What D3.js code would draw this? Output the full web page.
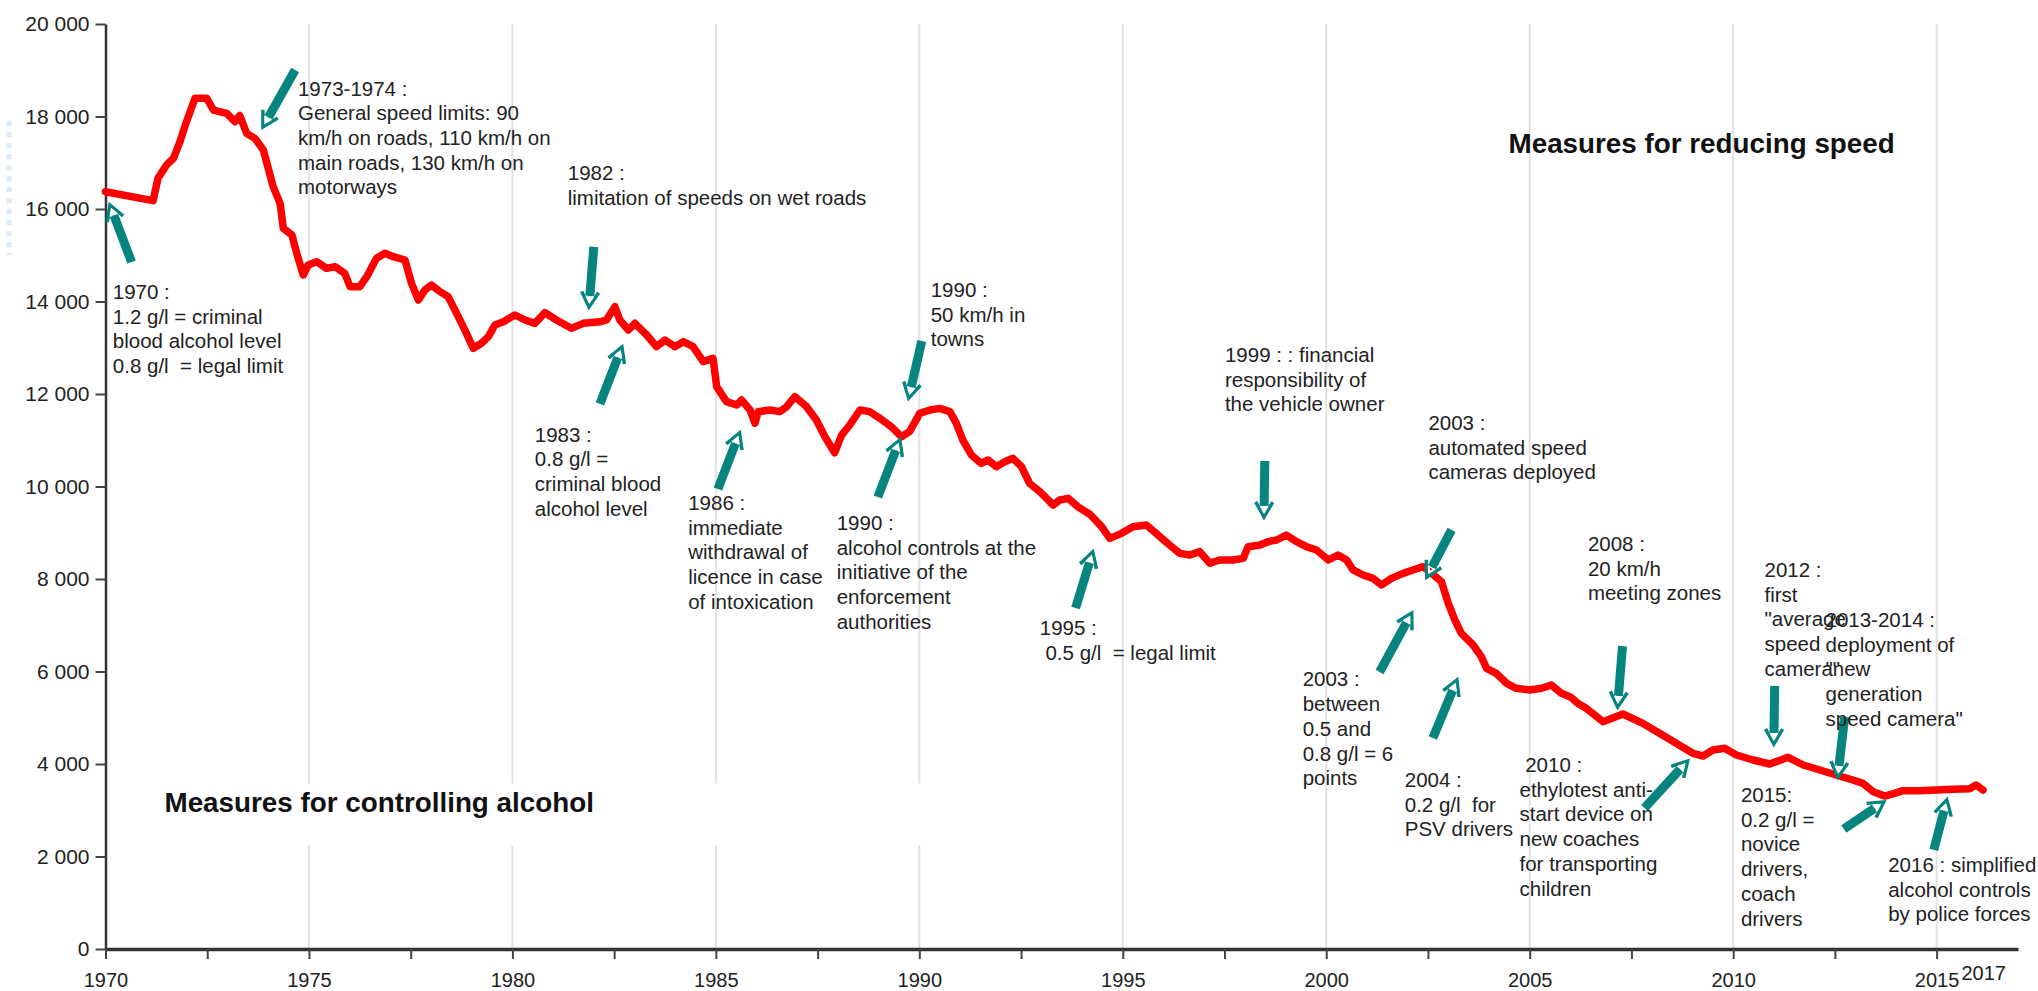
<!DOCTYPE html>
<html>
<head>
<meta charset="utf-8">
<script src="https://cdn.jsdelivr.net/npm/d3@7"></script>
<style>
  html, body { margin: 0; padding: 0; background: #fff; }
  svg { display: block; }
  text { font-family: "Liberation Sans", Arial, sans-serif; white-space: pre; }
</style>
</head>
<body>
<svg id="chart" width="2038" height="991"></svg>
<script>
// Road deaths in France, rolling 12-month total, with the main measures on speed and alcohol.

// --- data ---------------------------------------------------------------
const periods = [
  1970.00, 1971.17, 1971.29, 1971.50, 1971.67, 1971.83, 1971.99, 1972.20, 1972.49, 1972.65,
  1972.98, 1973.18, 1973.30, 1973.47, 1973.67, 1973.88, 1974.12, 1974.29, 1974.37, 1974.58,
  1974.70, 1974.86, 1974.98, 1975.19, 1975.43, 1975.64, 1975.88, 1976.01, 1976.25, 1976.42,
  1976.66, 1976.87, 1977.07, 1977.36, 1977.52, 1977.69, 1977.85, 1978.01, 1978.22, 1978.42,
  1978.67, 1978.87, 1979.04, 1979.24, 1979.41, 1979.57, 1979.78, 1980.06, 1980.31, 1980.55,
  1980.80, 1981.08, 1981.45, 1981.74, 1982.15, 1982.31, 1982.52, 1982.64, 1982.85, 1983.01,
  1983.30, 1983.54, 1983.75, 1983.99, 1984.20, 1984.44, 1984.69, 1984.93, 1985.02, 1985.26,
  1985.51, 1985.63, 1985.84, 1985.96, 1986.04, 1986.33, 1986.57, 1986.74, 1986.94, 1987.23,
  1987.47, 1987.68, 1987.92, 1988.09, 1988.29, 1988.54, 1988.78, 1989.03, 1989.31, 1989.56,
  1989.76, 1990.01, 1990.26, 1990.50, 1990.75, 1990.91, 1991.07, 1991.28, 1991.52, 1991.69,
  1991.89, 1992.10, 1992.30, 1992.51, 1992.71, 1992.96, 1993.29, 1993.45, 1993.66, 1993.90,
  1994.19, 1994.48, 1994.68, 1994.97, 1995.25, 1995.58, 1995.91, 1996.15, 1996.40, 1996.65,
  1996.89, 1997.14, 1997.38, 1997.71, 1997.96, 1998.08, 1998.37, 1998.57, 1998.78, 1999.02,
  1999.27, 1999.51, 1999.76, 2000.05, 2000.29, 2000.50, 2000.66, 2000.91, 2001.15, 2001.36,
  2001.60, 2001.89, 2002.13, 2002.38, 2002.59, 2002.83, 2003.00, 2003.16, 2003.32, 2003.61,
  2003.81, 2003.94, 2004.18, 2004.43, 2004.67, 2005.00, 2005.29, 2005.53, 2005.78, 2006.00,
  2006.20, 2006.39, 2006.80, 2007.29, 2007.78, 2008.19, 2008.60, 2009.01, 2009.26, 2009.50,
  2009.79, 2010.08, 2010.49, 2010.90, 2011.35, 2011.72, 2012.13, 2012.53, 2012.94, 2013.19,
  2013.44, 2013.72, 2013.97, 2014.17, 2014.58, 2014.99, 2015.40, 2015.81, 2015.97, 2016.14,
];
const deaths = [
  16374, 16180, 16663, 16951, 17096, 17456, 17888, 18393, 18393, 18140,
  18069, 17888, 18020, 17636, 17528, 17276, 16483, 16122, 15582, 15438,
  15042, 14573, 14789, 14861, 14717, 14753, 14609, 14321, 14321, 14537,
  14933, 15042, 14969, 14897, 14393, 14032, 14249, 14357, 14213, 14105,
  13672, 13312, 12988, 13096, 13240, 13492, 13564, 13708, 13600, 13528,
  13758, 13600, 13420, 13528, 13560, 13600, 13888, 13600, 13384, 13528,
  13276, 13024, 13168, 13024, 13132, 13024, 12699, 12771, 12159, 11835,
  11762, 11870, 11654, 11366, 11618, 11654, 11618, 11726, 11942, 11726,
  11438, 11077, 10731, 11113, 11330, 11654, 11618, 11474, 11294, 11077,
  11186, 11582, 11654, 11690, 11618, 11366, 11005, 10681, 10501, 10573,
  10429, 10537, 10609, 10429, 10069, 9888, 9600, 9708, 9744, 9560,
  9400, 9131, 8879, 8987, 9131, 9168, 8915, 8735, 8555, 8519,
  8591, 8339, 8411, 8411, 8447, 8699, 8735, 8807, 8843, 8951,
  8807, 8699, 8627, 8411, 8519, 8411, 8195, 8086, 8014, 7870,
  8014, 8122, 8195, 8267, 8122, 7942, 7474, 7114, 6825, 6573,
  6321, 6069, 5961, 5745, 5637, 5600, 5637, 5708, 5528, 5450,
  5300, 5204, 4915, 5081, 4879, 4663, 4447, 4231, 4173, 4303,
  4339, 4195, 4086, 4000, 4144, 3978, 3870, 3762, 3654, 3582,
  3402, 3308, 3366, 3423, 3423, 3438, 3452, 3466, 3546, 3438,
];

const yTicks = [0, 2000, 4000, 6000, 8000, 10000, 12000, 14000, 16000, 18000, 20000];
const xTicks = [1970, 1972.5, 1975, 1977.5, 1980, 1982.5, 1985, 1987.5, 1990, 1992.5,
  1995, 1997.5, 2000, 2002.5, 2005, 2007.5, 2010, 2012.5, 2015];
const xLabels = [1970, 1975, 1980, 1985, 1990, 1995, 2000, 2005, 2010, 2015];
const gridYears = [1975, 1980, 1985, 1990, 1995, 2000, 2005, 2010, 2015];
const lastYear = 2017;

// notes: [year, value] of first baseline, then the lines
const notes = [
  [1970.18, 14054, ["1970 :", "1.2 g/l = criminal", "blood alcohol level", "0.8 g/l  = legal limit"]],
  [1974.73, 18454, ["1973-1974 :", "General speed limits: 90", "km/h on roads, 110 km/h on", "main roads, 130 km/h on", "motorways"]],
  [1981.36, 16627, ["1982 :", "limitation of speeds on wet roads"]],
  [1980.55, 10969, ["1983 :", "0.8 g/l =", "criminal blood", "alcohol level"]],
  [1984.32, 9492, ["1986 :", "immediate", "withdrawal of", "licence in case", "of intoxication"]],
  [1990.28, 14098, ["1990 :", "50 km/h in", "towns"]],
  [1987.97, 9060, ["1990 :", "alcohol controls at the", "initiative of the", "enforcement", "authorities"]],
  [1992.96, 6789, ["1995 :", " 0.5 g/l  = legal limit"]],
  [1997.51, 12692, ["1999 : : financial", "responsibility of", "the vehicle owner"]],
  [2002.51, 11222, ["2003 :", "automated speed", "cameras deployed"]],
  [1999.42, 5676, ["2003 :", "between", "0.5 and", "0.8 g/l = 6", "points"]],
  [2001.93, 3503, ["2004 :", "0.2 g/l  for", "PSV drivers"]],
  [2006.43, 8606, ["2008 :", "20 km/h", "meeting zones"]],
  [2004.75, 3827, [" 2010 :", "ethylotest anti-", "start device on", "new coaches", "for transporting", "children"]],
  [2010.77, 8043, ["2012 :", "first", "\"average", "speed", "camera\""]],
  [2012.27, 6962, ["2013-2014 :", "deployment of", "\"new", "generation", "speed camera\""]],
  [2010.19, 3178, ["2015:", "0.2 g/l =", "novice", "drivers,", "coach", "drivers"]],
  [2013.81, 1665, ["2016 : simplified", "alcohol controls", "by police forces"]],
];

// arrows: tail year, tail value, tip year, tip value
const arrows = [
  [1970.64, 14854, 1970.11, 16087],
  [1974.66, 19006, 1973.87, 17773],
  [1982.00, 15179, 1981.88, 13881],
  [1982.15, 11784, 1982.69, 13016],
  [1985.05, 9946, 1985.58, 11157],
  [1990.06, 13146, 1989.74, 11914],
  [1988.98, 9773, 1989.52, 11006],
  [1993.84, 7373, 1994.26, 8584],
  [1998.49, 10552, 1998.47, 9341],
  [2003.08, 9060, 2002.47, 8043],
  [2001.31, 5989, 2002.10, 7265],
  [2002.62, 4562, 2003.21, 5816],
  [2007.28, 6551, 2007.16, 5233],
  [2007.82, 3049, 2008.88, 4065],
  [2011.02, 5687, 2011.00, 4433],
  [2012.74, 5016, 2012.57, 3719],
  [2012.72, 2595, 2013.70, 3178],
  [2014.93, 2141, 2015.25, 3222],
];

// bold section titles: year, value of baseline, text
const titles = [
  [2004.48, 17218, "Measures for reducing speed"],
  [1971.45, 2969, "Measures for controlling alcohol"],
];

// --- drawing ------------------------------------------------------------
const W = 2038, H = 991;
const LEFT = 105.5, RIGHT = 2018, TOP = 24, BOTTOM = 949;
const TEAL = "#06847f", RED = "#ff0000", INK = "#222";
const FONT = "20.5px 'Liberation Sans', Arial, sans-serif";
const LINE_H = 24.7;

const x = d3.scaleLinear().domain([1970, lastYear]).range([LEFT, RIGHT]);
const y = d3.scaleLinear().domain([0, 20000]).range([BOTTOM, TOP]);
const fmt = d3.formatLocale({ decimal: ",", thousands: " ", grouping: [3], currency: ["", ""] }).format(",d");

const svg = d3.select("#chart");
svg.append("rect").attr("width", W).attr("height", H).attr("fill", "#fff");

// faint artefact at the far left of the original scan
svg.append("line").attr("x1", 9).attr("x2", 9).attr("y1", y(17900)).attr("y2", y(15000))
  .attr("stroke", "#d6ebf7").attr("stroke-width", 5).attr("stroke-dasharray", "5 6");

// vertical grid
svg.append("g").selectAll("line").data(gridYears).enter().append("line")
  .attr("x1", (d) => x(d)).attr("x2", (d) => x(d))
  .attr("y1", y(20000)).attr("y2", y(0))
  .attr("stroke", "#e2e2e2").attr("stroke-width", 2);

// white band behind the alcohol title (the grid is broken there in the original)
svg.append("rect")
  .attr("x", x(1970) + 3).attr("y", y(3580))
  .attr("width", x(1993.5) - x(1970)).attr("height", y(2240) - y(3580))
  .attr("fill", "#fff");

// y axis
const yAxis = d3.axisLeft(y).tickValues(yTicks).tickFormat(fmt).tickSize(10).tickSizeOuter(0).tickPadding(6);
svg.append("g").attr("transform", `translate(${LEFT},0)`).call(yAxis)
  .call((s) => s.select(".domain").attr("stroke", "#333").attr("stroke-width", 2.5))
  .call((s) => s.selectAll(".tick line").attr("stroke", "#444").attr("stroke-width", 2))
  .call((s) => s.selectAll("text").style("font", "21px 'Liberation Sans', Arial, sans-serif").style("fill", INK));

// x axis
const xAxis = d3.axisBottom(x).tickValues(xTicks)
  .tickFormat((d) => xLabels.includes(d) ? String(d) : "")
  .tickSize(10).tickSizeOuter(0).tickPadding(14);
svg.append("g").attr("transform", `translate(0,${BOTTOM})`).call(xAxis)
  .call((s) => s.select(".domain").attr("stroke", "#333").attr("stroke-width", 3.5))
  .call((s) => s.selectAll(".tick line").attr("stroke", "#444").attr("stroke-width", 2))
  .call((s) => s.selectAll("text").style("font", "20px 'Liberation Sans', Arial, sans-serif").style("fill", INK));
svg.append("text").attr("x", x(lastYear) - 12).attr("y", BOTTOM + 31)
  .attr("text-anchor", "end")
  .style("font", "20px 'Liberation Sans', Arial, sans-serif").style("fill", INK)
  .text(String(lastYear));

// series
const series = periods.map((p, i) => [p, deaths[i]]);
svg.append("path").datum(series)
  .attr("fill", "none").attr("stroke", RED).attr("stroke-width", 7.5)
  .attr("stroke-linejoin", "round").attr("stroke-linecap", "round")
  .attr("d", d3.line().x((d) => x(d[0])).y((d) => y(d[1])));

// arrows
const ag = svg.append("g");
arrows.forEach(([ty, tv, hy, hv]) => {
  const x1 = x(ty), y1 = y(tv), x2 = x(hy), y2 = y(hv);
  const L = Math.hypot(x2 - x1, y2 - y1), ux = (x2 - x1) / L, uy = (y2 - y1) / L;
  const hl = 15, hw = 8.5, px = -uy, py = ux;
  ag.append("line")
    .attr("x1", x1).attr("y1", y1).attr("x2", x2 - ux * 11).attr("y2", y2 - uy * 11)
    .attr("stroke", TEAL).attr("stroke-width", 9);
  const bx = x2 - ux * hl, by = y2 - uy * hl;
  ag.append("path")
    .attr("d", `M${bx + px * hw},${by + py * hw}L${x2},${y2}L${bx - px * hw},${by - py * hw}`)
    .attr("fill", "none").attr("stroke", TEAL).attr("stroke-width", 3.5)
    .attr("stroke-linejoin", "miter");
  ag.append("path")
    .attr("d", `M${bx + px * 3.5 + ux * 4},${by + py * 3.5 + uy * 4}L${x2 - ux * 5},${y2 - uy * 5}L${bx - px * 3.5 + ux * 4},${by - py * 3.5 + uy * 4}`)
    .attr("fill", "none").attr("stroke", "#fff").attr("stroke-width", 2);
});

// notes
const ng = svg.append("g");
notes.forEach(([yr, v, lines]) => {
  const t = ng.append("text").attr("x", x(yr)).attr("y", y(v))
    .style("font", FONT).style("fill", INK);
  lines.forEach((l, i) => {
    t.append("tspan").attr("x", x(yr)).attr("dy", i === 0 ? 0 : LINE_H).text(l);
  });
});

// section titles
svg.append("g").selectAll("text").data(titles).enter().append("text")
  .attr("x", (d) => x(d[0])).attr("y", (d) => y(d[1]))
  .style("font", "bold 27.8px 'Liberation Sans', Arial, sans-serif").style("fill", "#111")
  .text((d) => d[2]);
</script>
</body>
</html>
